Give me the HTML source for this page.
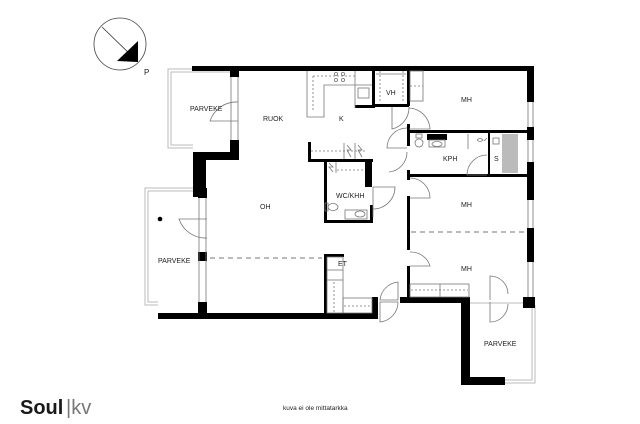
<!DOCTYPE html>
<html><head><meta charset="utf-8"><style>
html,body{margin:0;padding:0;background:#fff;width:640px;height:424px;overflow:hidden}
svg{display:block}
text{font-family:"Liberation Sans",sans-serif;fill:#222}
</style></head><body>
<svg width="640" height="424" viewBox="0 0 640 424" xmlns="http://www.w3.org/2000/svg">
<!-- compass -->
<circle cx="120" cy="44" r="26" fill="none" stroke="#444" stroke-width="0.8"/>
<line x1="102" y1="27" x2="133" y2="57" stroke="#333" stroke-width="0.8"/>
<polygon points="117,61 138,41 138,62" fill="#000"/>
<text x="144" y="75" font-size="8">P</text>

<!-- balconies thin outlines -->
<g fill="none" stroke="#bbb" stroke-width="1">
<polyline points="231,69 168,69 168,148 193,148"/>
<polyline points="231,72 171,72 171,145 193,145"/>
<polyline points="200,188 145,188 145,305 158,305"/>
<polyline points="200,191 148,191 148,302 158,302"/>
<polyline points="505,383 535,383 535,305"/>
<polyline points="505,380 532,380 532,305"/>
<line x1="470" y1="303" x2="525" y2="303"/>
</g>

<g fill="#000">
<!-- top wall -->
<rect x="192" y="66" width="342" height="5"/>
<rect x="230" y="66" width="9" height="11"/>
<rect x="230" y="140" width="9" height="20"/>
<rect x="193" y="152" width="46" height="8"/>
<rect x="193" y="152" width="13" height="45"/>
<!-- left lower wall -->
<rect x="198" y="188" width="9" height="10"/>
<rect x="198" y="252" width="9" height="9"/>
<rect x="198" y="302" width="9" height="17"/>
<rect x="158" y="313" width="220" height="6"/>
<rect x="372" y="297" width="6" height="22"/>
<!-- right wall -->
<rect x="527" y="66" width="7" height="36"/>
<rect x="527" y="127" width="7" height="13"/>
<rect x="527" y="162" width="7" height="38"/>
<rect x="527" y="228" width="7" height="34"/>
<rect x="523" y="297" width="12" height="11"/>
<!-- bottom right -->
<rect x="400" y="297" width="70" height="6"/>
<rect x="461" y="297" width="9" height="88"/>
<rect x="461" y="377" width="44" height="8"/>
<!-- interior -->
<rect x="407" y="66" width="3" height="40"/>
<rect x="407" y="124" width="3" height="22"/>
<rect x="407" y="170" width="3" height="10"/>
<rect x="407" y="196" width="3" height="54"/>
<rect x="407" y="266" width="3" height="34"/>
<rect x="372" y="66" width="3" height="40"/>
<rect x="372" y="104" width="37" height="3"/>
<rect x="355" y="105" width="20" height="3"/>
<rect x="409" y="130" width="118" height="3"/>
<rect x="409" y="174" width="118" height="3"/>
<rect x="488" y="132" width="2" height="44"/>
<rect x="427" y="134" width="20" height="6"/>
<!-- kitchen / wc -->
<rect x="308" y="142" width="3" height="20"/>
<rect x="308" y="159" width="65" height="3"/>
<rect x="365" y="159" width="7" height="28"/>
<rect x="324" y="159" width="3" height="64"/>
<rect x="324" y="220" width="49" height="3"/>
<rect x="370" y="205" width="3" height="18"/>
<!-- ET closet -->
<rect x="324" y="254" width="3" height="62"/>
<rect x="324" y="254" width="20" height="3"/>
</g>

<!-- windows thin -->
<g stroke="#777" stroke-width="0.8" fill="none">
<line x1="528" y1="102" x2="528" y2="127"/><line x1="533" y1="102" x2="533" y2="127"/>
<line x1="528" y1="140" x2="528" y2="162"/><line x1="533" y1="140" x2="533" y2="162"/>
<line x1="528" y1="200" x2="528" y2="228"/><line x1="533" y1="200" x2="533" y2="228"/>
<line x1="528" y1="262" x2="528" y2="297"/><line x1="533" y1="262" x2="533" y2="297"/>
<line x1="199" y1="198" x2="199" y2="302"/><line x1="206" y1="198" x2="206" y2="302"/>
<line x1="231" y1="77" x2="231" y2="140"/><line x1="238" y1="77" x2="238" y2="140"/>
<!-- kitchen counters -->
<polyline points="307,71 307,117 324,117 324,85 372,85"/>
<line x1="313" y1="76" x2="313" y2="112" stroke-dasharray="2,2"/>
<line x1="313" y1="76" x2="355" y2="76" stroke-dasharray="2,2"/>
<line x1="355" y1="71" x2="355" y2="108"/>
<rect x="358" y="88" width="11" height="10"/>
<circle cx="336" cy="74" r="1.6"/><circle cx="343" cy="74" r="1.6"/>
<circle cx="336" cy="80" r="1.6"/><circle cx="343" cy="80" r="1.6"/>
<line x1="311" y1="151" x2="365" y2="151" stroke-dasharray="2,2"/>
<line x1="344" y1="143" x2="344" y2="159"/><line x1="355" y1="143" x2="355" y2="159"/>
<polyline points="347,145 351,150 347,150 351,157"/><polyline points="358,145 362,150 358,150 362,157"/>
<line x1="336" y1="162" x2="336" y2="173"/>
<line x1="337" y1="170" x2="364" y2="170" stroke-dasharray="2,2"/>
<polyline points="329,163 333,167 329,167 333,172"/>
<ellipse cx="333" cy="207" rx="5" ry="3.5"/><rect x="325" y="203" width="3" height="8"/>
<rect x="345" y="210" width="22" height="9"/><ellipse cx="360" cy="214" rx="5" ry="3"/>
<!-- VH -->
<line x1="376" y1="74" x2="406" y2="74"/>
<line x1="380" y1="71" x2="380" y2="103" stroke-dasharray="2,2"/>
<line x1="403" y1="71" x2="403" y2="103" stroke-dasharray="2,2"/>
<rect x="410" y="71" width="13" height="30"/>
<line x1="410" y1="86" x2="423" y2="86" stroke-dasharray="2,2"/>
<!-- KPH -->
<ellipse cx="419" cy="143" rx="4" ry="4"/><rect x="416" y="134" width="6" height="4"/>
<rect x="429" y="140" width="16" height="7"/><ellipse cx="437" cy="144" rx="5" ry="2.5"/>
<line x1="468" y1="134" x2="468" y2="149"/>
<rect x="493" y="138" width="6" height="6"/>
<path d="M477,140 q3,-3 6,0 q-3,3 -6,0 M484,141 l3,-3"/>
<!-- sauna stripes -->
<g stroke="#555"><line x1="503" y1="134" x2="503" y2="173"/><line x1="505" y1="134" x2="505" y2="173"/><line x1="507" y1="134" x2="507" y2="173"/><line x1="509" y1="134" x2="509" y2="173"/><line x1="511" y1="134" x2="511" y2="173"/><line x1="513" y1="134" x2="513" y2="173"/><line x1="515" y1="134" x2="515" y2="173"/><line x1="517" y1="134" x2="517" y2="173"/></g>
<!-- bedroom closet -->
<rect x="410" y="284" width="59" height="13"/>
<line x1="411" y1="290" x2="468" y2="290" stroke-dasharray="2,2"/>
<line x1="440" y1="284" x2="440" y2="297"/>
<!-- ET closet -->
<rect x="327" y="257" width="16" height="56"/>
<line x1="327" y1="270" x2="343" y2="270"/><line x1="327" y1="280" x2="343" y2="280"/>
<line x1="334" y1="282" x2="334" y2="313" stroke-dasharray="2,2"/>
<rect x="343" y="298" width="29" height="15"/>
<line x1="344" y1="306" x2="371" y2="306" stroke-dasharray="2,2"/>
<!-- doors -->
<path d="M238,121 h-28 a28,28 0 0 1 28,-19"/>
<path d="M207,219 h-28 a28,28 0 0 0 28,19"/>
<path d="M373,180 a24,24 0 0 1 -0,0 M373,187 v30 M373,187 h22 a22,22 0 0 1 -22,22"/>
<path d="M392,107 v22 a22,22 0 0 0 17,-22"/>
<path d="M409,108 a22,22 0 0 1 21,21 h-21"/>
<path d="M407,148 h-20 a20,20 0 0 1 20,-20"/>
<path d="M410,178 a20,20 0 0 1 20,20 h-20"/>
<path d="M410,252 a20,20 0 0 1 20,14 h-20"/>
<path d="M389,172 a20,20 0 0 0 18,-20"/>
<path d="M487,175 h-20 a20,20 0 0 1 20,-20"/>
<path d="M398,282 a20,20 0 0 0 -18,18 h18 z"/>
<path d="M380,302 h18 a20,20 0 0 1 -18,20 z"/>
<path d="M490,300 v-24 a18,18 0 0 1 18,18"/>
<path d="M490,302 v20 a18,18 0 0 0 18,-18"/>
</g>
<!-- dashed lines -->
<line x1="210" y1="258" x2="322" y2="258" stroke="#777" stroke-width="1" stroke-dasharray="5,4"/>
<line x1="411" y1="232" x2="526" y2="232" stroke="#777" stroke-width="1" stroke-dasharray="5,4"/>
<circle cx="160" cy="219" r="2.3" fill="#000"/>

<g font-size="7">
<text x="190" y="111">PARVEKE</text>
<text x="263" y="121">RUOK</text>
<text x="339" y="121">K</text>
<text x="386" y="95">VH</text>
<text x="461" y="102">MH</text>
<text x="443" y="161">KPH</text>
<text x="494" y="161">S</text>
<text x="336" y="198">WC/KHH</text>
<text x="260" y="209">OH</text>
<text x="338" y="266">ET</text>
<text x="461" y="207">MH</text>
<text x="461" y="271">MH</text>
<text x="158" y="263">PARVEKE</text>
<text x="484" y="346">PARVEKE</text>
<text x="283" y="410" font-size="6.5">kuva ei ole mittatarkka</text>
</g>
<text x="20" y="414" font-size="20" font-weight="bold" style="fill:#1a1a1a">Soul</text>
<text x="66" y="414" font-size="20" style="fill:#777">|kv</text>
</svg>
</body></html>
